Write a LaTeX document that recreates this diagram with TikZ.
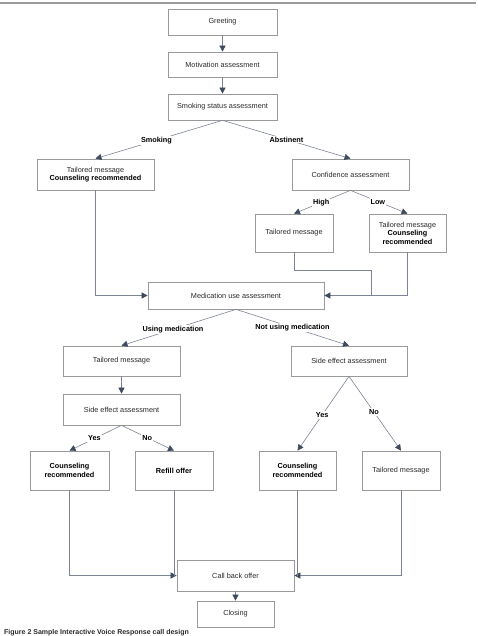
\documentclass[tikz,border=0pt]{standalone}
\usepackage{fontspec}
\setmainfont{Liberation Sans}
\usetikzlibrary{arrows.meta,calc}
\definecolor{boxc}{HTML}{9A9A9A}
\definecolor{linec}{HTML}{7C8494}
\definecolor{tipc}{HTML}{3E4A5E}
\definecolor{txt}{HTML}{2A2A2A}
\begin{document}
\begin{tikzpicture}[x=1pt,y=-1pt,
  box/.style={draw=boxc,line width=0.7pt,fill=white,font=\fontsize{7.3}{8.4}\selectfont,text=txt,align=center,inner sep=1pt},
  conn/.style={draw=linec,line width=0.6pt},
  arr/.style={conn,-{Triangle[length=6pt,width=6pt,color=tipc]}},
  lab/.style={fill=white,font=\fontsize{7.3}{8.4}\selectfont\bfseries,text=black,inner sep=1pt}]
\useasboundingbox (0,0) rectangle (478,636);
\draw[boxc,line width=1.2pt] (0,3) -- (476,3);

% nodes
\node[box,minimum width=109pt,minimum height=26pt] (greet) at (222.5,22) {Greeting};
\node[box,minimum width=109pt,minimum height=25pt] (motiv) at (222.5,64.5) {Motivation assessment};
\node[box,minimum width=109pt,minimum height=26pt] (smoke) at (222.5,107) {Smoking status assessment};
\node[box,minimum width=117pt,minimum height=31pt] (tm1) at (95.5,174.5) {Tailored message\\\textbf{\color{black}Counseling recommended}};
\node[box,minimum width=117pt,minimum height=31pt] (conf) at (350.5,174.5) {Confidence assessment};
\node[box,minimum width=78pt,minimum height=38pt] (tmh) at (294,233) {Tailored message};
\node[box,minimum width=77pt,minimum height=38pt] (tml) at (407.5,233) {Tailored message\\\textbf{\color{black}Counseling}\\\textbf{\color{black}recommended}};
\node[box,minimum width=176pt,minimum height=27pt] (med) at (236,295.5) {Medication use assessment};
\node[box,minimum width=117pt,minimum height=30pt] (tm4) at (121.5,361) {Tailored message};
\node[box,minimum width=116pt,minimum height=30pt] (se2) at (349,361) {Side effect assessment};
\node[box,minimum width=117pt,minimum height=31pt] (se1) at (121.5,409.5) {Side effect assessment};
\node[box,minimum width=79pt,minimum height=39pt] (cr1) at (69.5,470.5) {\textbf{\color{black}Counseling}\\\textbf{\color{black}recommended}};
\node[box,minimum width=78pt,minimum height=39pt] (refill) at (174,470.5) {\textbf{\color{black}Refill offer}};
\node[box,minimum width=77pt,minimum height=39pt] (cr2) at (297.5,470.5) {\textbf{\color{black}Counseling}\\\textbf{\color{black}recommended}};
\node[box,minimum width=78pt,minimum height=39pt] (tm5) at (401,470.5) {Tailored message};
\node[box,minimum width=117pt,minimum height=31pt] (call) at (235.5,575.5) {Call back offer};
\node[box,minimum width=77pt,minimum height=26pt] (close) at (235.5,614) {Closing};
\coordinate (j1) at (371,295.5);

% connectors
\draw[arr] (greet) -- (motiv);
\draw[arr] (motiv) -- (smoke);
\draw[arr] (smoke.south) -- node[lab,pos=0.52]{Smoking} (tm1.north);
\draw[arr] (smoke.south) -- node[lab,pos=0.5]{Abstinent} (conf.north);
\draw[arr] (conf.south) -- node[lab,pos=0.52]{High} (tmh.north);
\draw[arr] (conf.south) -- node[lab,pos=0.48]{Low} (tml.north);
\draw[arr] (tm1.south) |- (med.west);
\draw[conn] (tmh.south) -- ++(0,18) -| (j1);
\draw[arr] (tml.south) |- (med.east);
\draw[arr] (med.south) -- node[lab,pos=0.55]{Using medication} (tm4.north);
\draw[arr] (med.south) -- node[lab,pos=0.5]{Not using medication} (se2.north);
\draw[arr] (tm4) -- (se1);
\draw[arr] (se1.south) -- node[lab,pos=0.52]{Yes} (cr1.north);
\draw[arr] (se1.south) -- node[lab,pos=0.49]{No} (refill.north);
\draw[arr] (se2.south) -- node[lab,pos=0.52]{Yes} (cr2.north);
\draw[arr] (se2.south) -- node[lab,pos=0.48]{No} (tm5.north);
\draw[arr] (cr1.south) |- (call.west);
\draw[conn] (refill.south) -- (refill.south |- call.west);
\draw[arr] (tm5.south) |- (call.east);
\draw[conn] (cr2.south) -- (cr2.south |- call.east);
\draw[arr] (call) -- (close);

\node[anchor=base west,font=\fontsize{7}{8}\selectfont\bfseries,text=txt,inner sep=0pt] (cap) at (4,634.3) {Figure 2 Sample Interactive Voice Response call design};
\end{tikzpicture}
\end{document}
